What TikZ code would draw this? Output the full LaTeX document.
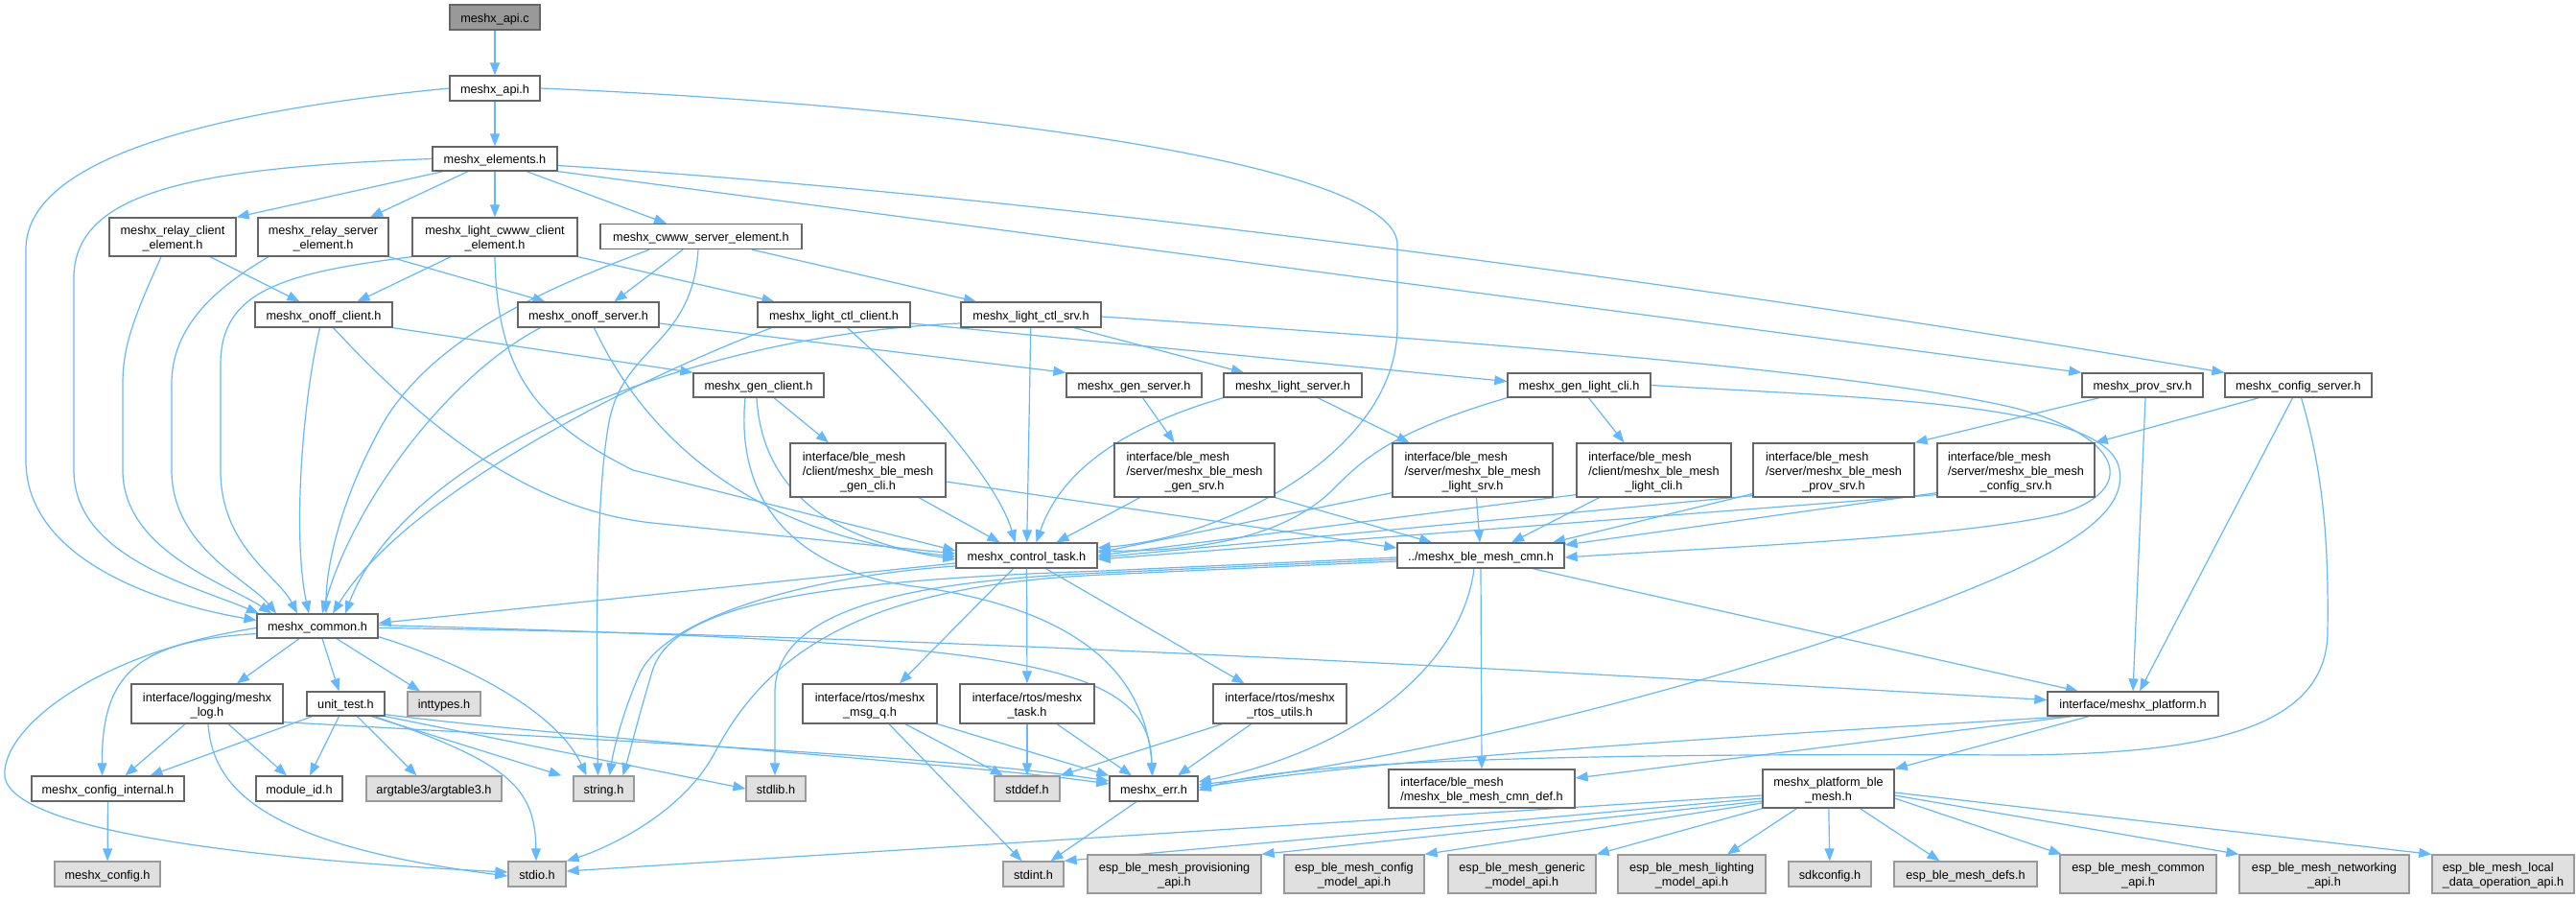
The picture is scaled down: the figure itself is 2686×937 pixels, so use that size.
\documentclass[tikz,border=0pt]{standalone}
\usepackage{fontspec}
\setmainfont{Liberation Sans}
\usetikzlibrary{arrows.meta}
\definecolor{edgec}{HTML}{63B8FF}
\definecolor{bordw}{HTML}{666666}
\definecolor{bordg}{HTML}{999999}
\definecolor{fillg}{HTML}{E0E0E0}
\definecolor{fillr}{HTML}{999999}
\pgfdeclarelayer{bgl}
\pgfdeclarelayer{edges}
\pgfsetlayers{bgl,edges,main}
\newcommand{\mlab}[2]{\begin{tabular}{@{}l@{}}\rule{0pt}{15.1pt}#1\\\multicolumn{1}{@{}c@{}}{#2}\end{tabular}}
\tikzset{
  wb/.style={draw=bordw, fill=white, line width=1.3pt, inner sep=0pt},
  gb/.style={draw=bordg, fill=fillg, line width=1.3pt, inner sep=0pt},
  rb/.style={draw=bordw, fill=fillr, line width=1.3pt, inner sep=0pt},
  sl/.style={text height=13.3pt, text depth=2.7pt},
  sz/.style 2 args={minimum width=#1pt, minimum height=#2pt},
  lnk/.style={draw=edgec, line width=1.2pt, -{Triangle[length=13pt,width=10pt]}, fill=none}
}
\begin{document}
\begin{tikzpicture}[x=1pt,y=1pt,every node/.style={font=\fontsize{12.7}{15}\selectfont}]
\begin{pgfonlayer}{bgl}
\fill[white] (0,0) rectangle (2686,-937);
\end{pgfonlayer}
\useasboundingbox (0,0) rectangle (2686,-937);
% ---------------- nodes ----------------
\node[rb,sl,sz={94}{26}] (apic) at (516,-18) {meshx\_api.c};
\node[wb,sl,sz={94}{26}] (apih) at (516,-92) {meshx\_api.h};
\node[wb,sl,sz={130}{25}] (elem) at (516,-165.5) {meshx\_elements.h};
\node[wb,sz={132}{40}] (rcli) at (180,-247) {\mlab{meshx\_relay\_client}{\_element.h}};
\node[wb,sz={136}{40}] (rsrv) at (337,-247) {\mlab{meshx\_relay\_server}{\_element.h}};
\node[wb,sz={172}{40}] (wcli) at (516,-247) {\mlab{meshx\_light\_cwww\_client}{\_element.h}};
\node[wb,sl,sz={210}{26}] (wsrv) at (731,-246.5) {meshx\_cwww\_server\_element.h};
\node[wb,sl,sz={143}{26}] (ocli) at (337.5,-328) {meshx\_onoff\_client.h};
\node[wb,sl,sz={147}{26}] (osrv) at (613.5,-328) {meshx\_onoff\_server.h};
\node[wb,sl,sz={159}{26}] (ccli) at (869.5,-328) {meshx\_light\_ctl\_client.h};
\node[wb,sl,sz={146}{26}] (csrv) at (1075,-328) {meshx\_light\_ctl\_srv.h};
\node[wb,sl,sz={126}{25}] (psrv) at (2234,-401.5) {meshx\_prov\_srv.h};
\node[wb,sl,sz={153}{25}] (cfgs) at (2396.5,-401.5) {meshx\_config\_server.h};
\node[wb,sl,sz={136}{25}] (gcli) at (791,-401.5) {meshx\_gen\_client.h};
\node[wb,sl,sz={141}{25}] (gsrv) at (1182.5,-401.5) {meshx\_gen\_server.h};
\node[wb,sl,sz={144}{25}] (lsrv) at (1348,-401.5) {meshx\_light\_server.h};
\node[wb,sl,sz={149}{25}] (glc) at (1646.5,-401.5) {meshx\_gen\_light\_cli.h};
\node[wb,sz={162}{56}] (gclih) at (905,-490) {\mlab{interface/ble\_mesh\\/client/meshx\_ble\_mesh}{\_gen\_cli.h}};
\node[wb,sz={167}{56}] (gsrvh) at (1245.5,-490) {\mlab{interface/ble\_mesh\\/server/meshx\_ble\_mesh}{\_gen\_srv.h}};
\node[wb,sz={167}{56}] (lsrvh) at (1535.5,-490) {\mlab{interface/ble\_mesh\\/server/meshx\_ble\_mesh}{\_light\_srv.h}};
\node[wb,sz={161}{56}] (lclih) at (1724.5,-490) {\mlab{interface/ble\_mesh\\/client/meshx\_ble\_mesh}{\_light\_cli.h}};
\node[wb,sz={168}{56}] (psrvh) at (1912,-490) {\mlab{interface/ble\_mesh\\/server/meshx\_ble\_mesh}{\_prov\_srv.h}};
\node[wb,sz={164}{56}] (csrvh) at (2102,-490) {\mlab{interface/ble\_mesh\\/server/meshx\_ble\_mesh}{\_config\_srv.h}};
\node[wb,sl,sz={147}{26}] (ctask) at (1070.5,-579) {meshx\_control\_task.h};
\node[wb,sl,sz={174}{26}] (bcmn) at (1544,-579) {../meshx\_ble\_mesh\_cmn.h};
\node[wb,sl,sz={126}{25}] (comm) at (331,-652.5) {meshx\_common.h};
\node[wb,sz={158}{41}] (logh) at (216,-733.5) {\mlab{interface/logging/meshx}{\_log.h}};
\node[wb,sl,sz={81}{25}] (utst) at (360.5,-733.5) {unit\_test.h};
\node[gb,sl,sz={76}{25}] (intt) at (463,-733.5) {inttypes.h};
\node[wb,sz={140}{41}] (msgq) at (907,-733.5) {\mlab{interface/rtos/meshx}{\_msg\_q.h}};
\node[wb,sz={140}{41}] (taskh) at (1071,-733.5) {\mlab{interface/rtos/meshx}{\_task.h}};
\node[wb,sz={139}{41}] (rtos) at (1334.5,-733.5) {\mlab{interface/rtos/meshx}{\_rtos\_utils.h}};
\node[wb,sl,sz={178}{25}] (plat) at (2224,-733.5) {interface/meshx\_platform.h};
\node[wb,sl,sz={159}{26}] (cint) at (112.5,-822) {meshx\_config\_internal.h};
\node[wb,sl,sz={90}{26}] (modid) at (312,-822) {module\_id.h};
\node[gb,sl,sz={141}{26}] (argt) at (452.5,-822) {argtable3/argtable3.h};
\node[gb,sl,sz={63}{26}] (strh) at (629.5,-822) {string.h};
\node[gb,sl,sz={62}{26}] (stdl) at (809,-822) {stdlib.h};
\node[gb,sl,sz={68}{26}] (stdd) at (1071,-822) {stddef.h};
\node[wb,sl,sz={92}{26}] (merr) at (1203,-822) {meshx\_err.h};
\node[wb,sz={194}{40}] (cdef) at (1545,-822) {\mlab{interface/ble\_mesh}{/meshx\_ble\_mesh\_cmn\_def.h}};
\node[wb,sz={137}{40}] (pble) at (1906.5,-822) {\mlab{meshx\_platform\_ble}{\_mesh.h}};
\node[gb,sl,sz={110}{26}] (mcfg) at (112,-911) {meshx\_config.h};
\node[gb,sl,sz={60}{26}] (stdio) at (560,-911) {stdio.h};
\node[gb,sl,sz={63}{26}] (stdi) at (1077.5,-911) {stdint.h};
\node[gb,sz={181}{40}] (pvapi) at (1224.5,-911) {\mlab{esp\_ble\_mesh\_provisioning}{\_api.h}};
\node[gb,sz={146}{40}] (cmapi) at (1412,-911) {\mlab{esp\_ble\_mesh\_config}{\_model\_api.h}};
\node[gb,sz={154}{40}] (gmapi) at (1587,-911) {\mlab{esp\_ble\_mesh\_generic}{\_model\_api.h}};
\node[gb,sz={154}{40}] (lmapi) at (1764,-911) {\mlab{esp\_ble\_mesh\_lighting}{\_model\_api.h}};
\node[gb,sl,sz={86}{26}] (sdkc) at (1908,-911) {sdkconfig.h};
\node[gb,sl,sz={149}{26}] (defs) at (2049.5,-911) {esp\_ble\_mesh\_defs.h};
\node[gb,sz={163}{40}] (coapi) at (2229.5,-911) {\mlab{esp\_ble\_mesh\_common}{\_api.h}};
\node[gb,sz={177}{40}] (nwapi) at (2423.5,-911) {\mlab{esp\_ble\_mesh\_networking}{\_api.h}};
\node[gb,sz={148}{40}] (ldapi) at (2610,-911) {\mlab{esp\_ble\_mesh\_local}{\_data\_operation\_api.h}};
% ---------------- edges ----------------
\begin{pgfonlayer}{edges}
\draw[lnk] (apic) -- (apih);
\draw[lnk] (apih) -- (elem);
\draw[lnk] (apih.west) .. controls (200,-118) and (27,-170) .. (27,-260) -- (27,-480) .. controls (27,-585) and (170,-630) .. ([yshift=6]comm.west);
\draw[lnk] (apih.east) .. controls (1000,-110) and (1457,-170) .. (1457,-255) -- (1457,-340) .. controls (1457,-470) and (1280,-560) .. ([yshift=8]ctask.east);
\draw[lnk] ([xshift=-54]elem.south) -- (rcli.north east);
\draw[lnk] ([xshift=-28]elem.south) -- ([xshift=49]rsrv.north);
\draw[lnk] (elem) -- (wcli);
\draw[lnk] ([xshift=33]elem.south) -- ([xshift=-36]wsrv.north);
\draw[lnk] (elem.west) .. controls (200,-175) and (77,-200) .. (77,-290) -- (77,-490) .. controls (77,-580) and (200,-610) .. ([xshift=-61]comm.north);
\draw[lnk] (elem.south east) -- (psrv.north west);
\draw[lnk] ([yshift=-7]elem.east) .. controls (1100,-205) and (1800,-300) .. (cfgs.north west);
\draw[lnk] ([xshift=39]rcli.south) -- ([xshift=-25]ocli.north);
\draw[lnk] ([xshift=-12]rcli.south) .. controls (140,-330) and (128,-360) .. (128,-400) -- (128,-490) .. controls (128,-575) and (240,-610) .. ([xshift=-48]comm.north);
\draw[lnk] (rsrv.south east) -- ([xshift=-45]osrv.north);
\draw[lnk] ([xshift=-57]rsrv.south) .. controls (225,-300) and (179,-340) .. (179,-400) -- (179,-490) .. controls (179,-570) and (260,-605) .. ([xshift=-43]comm.north);
\draw[lnk] ([xshift=-46]wcli.south) -- ([xshift=35]ocli.north);
\draw[lnk] (wcli.south west) .. controls (290,-285) and (230,-305) .. (230,-380) -- (230,-490) .. controls (230,-570) and (290,-600) .. ([xshift=-21]comm.north);
\draw[lnk] (wcli.south) .. controls (518,-390) and (560,-440) .. (660,-490) -- ([yshift=5]ctask.west);
\draw[lnk] (wcli.south east) -- ([xshift=-62]ccli.north);
\draw[lnk] ([xshift=-19]wsrv.south) -- ([xshift=27]osrv.north);
\draw[lnk] ([xshift=-54]wsrv.south) .. controls (600,-290) and (460,-340) .. (400,-440) .. controls (355,-520) and (340,-590) .. ([xshift=9]comm.north);
\draw[lnk] ([xshift=53]wsrv.south) -- ([xshift=-57]csrv.north);
\draw[lnk] ([xshift=-3]wsrv.south) .. controls (722,-360) and (650,-360) .. (635,-440) .. controls (620,-520) and (622,-700) .. ([xshift=-6]strh.north);
\draw[lnk] ([xshift=-4]ocli.south) .. controls (315,-420) and (305,-560) .. ([xshift=-9]comm.north);
\draw[lnk] ([xshift=10]ocli.south) .. controls (430,-430) and (540,-530) .. (680,-545) -- ([yshift=2]ctask.west);
\draw[lnk] (ocli.south east) -- (gcli.north west);
\draw[lnk] ([xshift=-50]osrv.south) .. controls (470,-390) and (370,-520) .. ([xshift=5]comm.north);
\draw[lnk] ([xshift=6]osrv.south) .. controls (680,-470) and (800,-560) .. ([yshift=-1]ctask.west);
\draw[lnk] ([yshift=-9]osrv.east) -- (gsrv.north west);
\draw[lnk] ([xshift=-65]ccli.south) .. controls (650,-400) and (420,-520) .. ([xshift=16]comm.north);
\draw[lnk] ([xshift=14]ccli.south) .. controls (950,-400) and (1040,-500) .. ([xshift=-12]ctask.north);
\draw[lnk] ([yshift=-9]ccli.east) -- ([yshift=4]glc.west);
\draw[lnk] ([yshift=-9]csrv.west) .. controls (700,-350) and (420,-480) .. ([xshift=29]comm.north);
\draw[lnk] (csrv) -- (ctask);
\draw[lnk] ([xshift=45]csrv.south) -- ([xshift=-51]lsrv.north);
\draw[lnk] ([yshift=-2]csrv.east) .. controls (1600,-360) and (1950,-390) .. (2100,-425) .. controls (2215,-455) and (2230,-510) .. (2150,-535) .. controls (2050,-560) and (1800,-570) .. ([yshift=-2]bcmn.east);
\draw[lnk] ([xshift=16]gcli.south) -- ([xshift=-41]gclih.north);
\draw[lnk] ([xshift=-2]gcli.south) .. controls (795,-520) and (880,-565) .. ([yshift=-4]ctask.west);
\draw[lnk] ([xshift=-14]gcli.south) .. controls (765,-540) and (850,-600) .. (960,-612) .. controls (1150,-640) and (1195,-720) .. ([xshift=-1]merr.north);
\draw[lnk] ([xshift=9]gsrv.south) -- ([xshift=-21]gsrvh.north);
\draw[lnk] ([xshift=53]gclih.south) -- ([xshift=-28]ctask.north);
\draw[lnk] ([yshift=-12]gclih.east) -- ([yshift=8]bcmn.west);
\draw[lnk] ([xshift=-57]gsrvh.south) -- ([xshift=31]ctask.north);
\draw[lnk] (gsrvh.south east) -- ([xshift=-51]bcmn.north);
\draw[lnk] (lsrv.south west) .. controls (1190,-440) and (1110,-480) .. ([xshift=10]ctask.north);
\draw[lnk] ([xshift=26]lsrv.south) -- ([xshift=-66]lsrvh.north);
\draw[lnk] (glc.south west) .. controls (1450,-450) and (1420,-480) .. (1390,-510) .. controls (1340,-560) and (1250,-575) .. ([yshift=5]ctask.east);
\draw[lnk] ([xshift=10]glc.south) -- ([xshift=-31]lclih.north);
\draw[lnk] (glc.east) .. controls (1950,-415) and (2200,-420) .. (2210,-490) .. controls (2220,-545) and (2120,-590) .. (2000,-635) .. controls (1700,-745) and (1400,-800) .. ([yshift=4]merr.east);
\draw[lnk] ([yshift=5]lsrvh.south west) -- ([yshift=3]ctask.east);
\draw[lnk] ([xshift=4]lsrvh.south) -- ([xshift=-1]bcmn.north);
\draw[lnk] ([yshift=3]lclih.south west) -- (ctask.east);
\draw[lnk] ([xshift=-57]lclih.south) -- ([xshift=32]bcmn.north);
\draw[lnk] ([yshift=2]psrvh.south west) -- ([yshift=-2]ctask.east);
\draw[lnk] ([yshift=4]psrvh.south west) -- ([xshift=75]bcmn.north);
\draw[lnk] ([yshift=3]csrvh.south west) -- ([yshift=-4]ctask.east);
\draw[lnk] ([yshift=5]csrvh.south west) -- ([yshift=11]bcmn.east);
\draw[lnk] ([xshift=-45]psrv.south) -- (psrvh.north east);
\draw[lnk] ([xshift=3]psrv.south) -- (plat.north);
\draw[lnk] ([xshift=-41]cfgs.south) -- (csrvh.north east);
\draw[lnk] ([xshift=-6]cfgs.south) -- ([xshift=7]plat.north);
\draw[lnk] ([xshift=3]cfgs.south) .. controls (2425,-500) and (2428,-580) .. (2427,-660) .. controls (2425,-760) and (2300,-786) .. (2100,-787) .. controls (1700,-785) and (1350,-790) .. ([yshift=-2]merr.east);
\draw[lnk] ([yshift=-8]ctask.west) -- ([yshift=3]comm.east);
\draw[lnk] ([yshift=-11]ctask.west) .. controls (850,-600) and (700,-640) .. (668,-700) .. controls (650,-740) and (640,-780) .. ([xshift=6]strh.north);
\draw[lnk] ([xshift=-14]ctask.south) -- ([xshift=31]msgq.north);
\draw[lnk] (ctask) -- (taskh);
\draw[lnk] ([xshift=20]ctask.south) -- ([xshift=-37]rtos.north);
\draw[lnk] ([xshift=-19]comm.south) -- ([xshift=31]logh.north);
\draw[lnk] ([xshift=5]comm.south) -- ([xshift=-7]utst.north);
\draw[lnk] ([xshift=20]comm.south) -- ([xshift=-25]intt.north);
\draw[lnk] ([yshift=2]comm.south east) .. controls (480,-690) and (580,-740) .. ([xshift=-18]strh.north);
\draw[lnk] ([yshift=-2]comm.west) .. controls (100,-680) and (0,-760) .. (5,-810) .. controls (15,-865) and (250,-895) .. ([yshift=2]stdio.west);
\draw[lnk] ([yshift=-8]comm.west) .. controls (140,-668) and (106,-705) .. ([xshift=-6]cint.north);
\draw[lnk] ([yshift=1]comm.east) .. controls (1050,-670) and (1200,-685) .. ([xshift=-2]merr.north);
\draw[lnk] ([yshift=-2]comm.east) .. controls (1000,-662) and (1700,-705) .. ([yshift=4]plat.west);
\draw[lnk] ([xshift=-23]logh.south) -- ([xshift=18]cint.north);
\draw[lnk] ([xshift=22]logh.south) -- ([xshift=-13]modid.north);
\draw[lnk] ([xshift=1]logh.south) .. controls (222,-820) and (270,-880) .. ([yshift=-2]stdio.west);
\draw[lnk] ([yshift=2]logh.south east) .. controls (700,-775) and (1000,-790) .. ([yshift=8]merr.west);
\draw[lnk] ([xshift=-35]utst.south) -- ([xshift=44]cint.north);
\draw[lnk] ([xshift=-7]utst.south) -- ([xshift=11]modid.north);
\draw[lnk] ([xshift=12]utst.south) -- ([xshift=-18]argt.north);
\draw[lnk] ([xshift=30]utst.south) .. controls (530,-795) and (558,-820) .. ([xshift=-1]stdio.north);
\draw[lnk] ([xshift=27]utst.south) -- ([xshift=-44]strh.north);
\draw[lnk] (utst.south east) -- (stdl.west);
\draw[lnk] ([yshift=2]utst.south east) .. controls (600,-770) and (1000,-795) .. ([yshift=5]merr.west);
\draw[lnk] (cint) -- (mcfg);
\draw[lnk] ([xshift=37]msgq.south) -- ([xshift=-25]stdd.north);
\draw[lnk] (msgq.south east) -- (merr.north west);
\draw[lnk] ([xshift=20]msgq.south) -- ([xshift=-12]stdi.north);
\draw[lnk] (taskh) -- (stdd);
\draw[lnk] ([xshift=31]taskh.south) -- ([xshift=-23]merr.north);
\draw[lnk] ([xshift=-60]rtos.south) -- (stdd.north east);
\draw[lnk] ([xshift=-30]rtos.south) -- ([xshift=25]merr.north);
\draw[lnk] ([xshift=-18]merr.south) -- ([xshift=18]stdi.north);
\draw[lnk] (bcmn.south) -- (cdef.north);
\draw[lnk] ([xshift=54]bcmn.south) -- ([xshift=-57]plat.north);
\draw[lnk] ([xshift=-7]bcmn.south) .. controls (1525,-690) and (1420,-780) .. ([yshift=7]merr.east);
\draw[lnk] ([yshift=-4]bcmn.west) -- (1150,-597) .. controls (930,-606) and (810,-640) .. (808,-720) -- ([xshift=-1]stdl.north);
\draw[lnk] ([yshift=-6]bcmn.west) -- (1150,-599) .. controls (900,-610) and (800,-680) .. (745,-785) .. controls (710,-850) and (630,-885) .. (stdio.north east);
\draw[lnk] ([yshift=-2]bcmn.west) -- (1150,-595) .. controls (850,-605) and (700,-630) .. (680,-700) .. controls (665,-750) and (655,-790) .. ([xshift=20]strh.north);
\draw[lnk] ([xshift=-64]plat.south) -- ([yshift=11]cdef.east);
\draw[lnk] ([xshift=-66]plat.south) .. controls (1800,-768) and (1450,-790) .. ([yshift=1]merr.east);
\draw[lnk] ([xshift=-46]plat.south) -- (pble.north east);
\draw[lnk] ([yshift=-7]pble.west) -- ([yshift=3]stdio.east);
\draw[lnk] ([yshift=-10]pble.west) -- (stdi.north east);
\draw[lnk] ([yshift=-13]pble.west) -- (pvapi.north east);
\draw[lnk] ([yshift=-15]pble.west) -- (cmapi.north east);
\draw[lnk] (pble.south west) -- (gmapi.north east);
\draw[lnk] ([xshift=-33]pble.south) -- ([xshift=37]lmapi.north);
\draw[lnk] (pble) -- (sdkc);
\draw[lnk] ([xshift=33]pble.south) -- ([xshift=-27]defs.north);
\draw[lnk] ([yshift=-10]pble.east) -- ([xshift=-80]coapi.north);
\draw[lnk] ([yshift=-7]pble.east) -- (nwapi.north west);
\draw[lnk] ([yshift=-4]pble.east) -- (ldapi.north west);
\end{pgfonlayer}
\end{tikzpicture}
\end{document}
